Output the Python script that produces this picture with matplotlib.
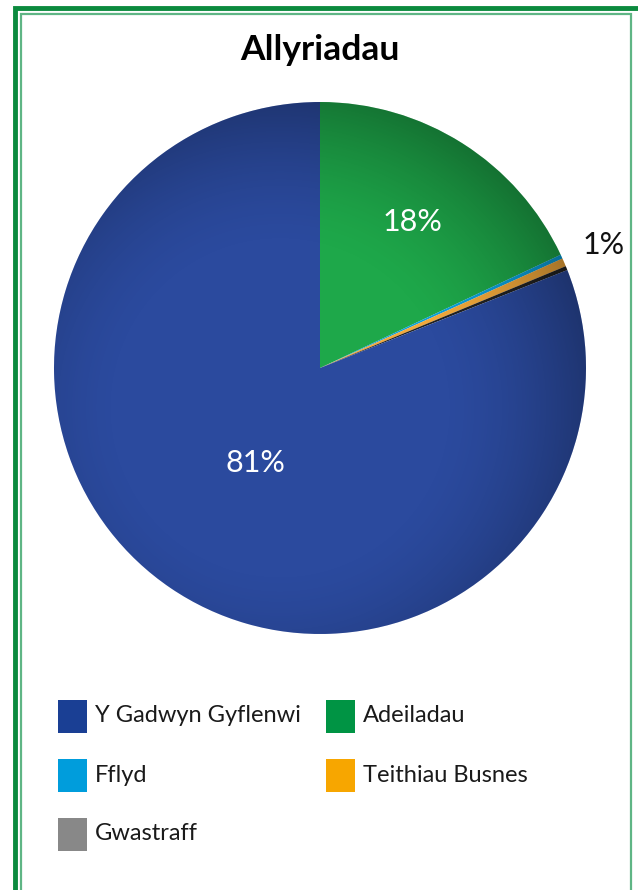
import numpy as np
import matplotlib
matplotlib.use("Agg")
import matplotlib.pyplot as plt
from matplotlib.patches import Rectangle, Circle

title = "Allyriadau"
categories = ["Adeiladau", "Fflyd", "Teithiau Busnes", "Gwastraff", "Y Gadwyn Gyflenwi"]
values = [18.0, 0.25, 0.5, 0.25, 81.0]
pie_colors = ["#1ea84a", "#0aa0dc", "#f2a93b", "#222222", "#2b4a9e"]
legend_labels = ["Y Gadwyn Gyflenwi", "Adeiladau", "Fflyd", "Teithiau Busnes", "Gwastraff"]
legend_colors = ["#1a3f94", "#009444", "#009ddc", "#f7a600", "#888888"]
pct_labels = ["18%", "1%", "81%"]

W, H = 638, 890
fig = plt.figure(figsize=(W / 100, H / 100), dpi=100)
ax = fig.add_axes([0, 0, 1, 1])
ax.set_xlim(0, W)
ax.set_ylim(0, H)
ax.axis("off")

def Y(y):
    return H - y

# double green frame
ax.add_patch(Rectangle((15, Y(950)), 640, 950 - 8, fill=False, ec="#0b8a3e", lw=3.5))
ax.add_patch(Rectangle((20.5, Y(950)), 610.5, 950 - 13.5, fill=False, ec="#5fb585", lw=1.6))

# title
ax.text(320, Y(50), title, ha="center", va="center", fontsize=25.5, fontweight="bold",
        family=["Lato", "DejaVu Sans"], color="#000000")

cx, cy, R = 320, Y(368), 266
wedges, _ = ax.pie(values, colors=pie_colors, startangle=90, counterclock=False,
                   center=(cx, cy), radius=R, frame=True,
                   wedgeprops=dict(linewidth=0))
ax.set_xlim(0, W)
ax.set_ylim(0, H)
ax.set_aspect("equal")
ax.axis("off")

# shading overlay clipped to circle (darker towards rim)
yy, xx = np.mgrid[-1:1:400j, -1:1:400j]
rr = np.sqrt((xx + 0.15) ** 2 + (yy - 0.15) ** 2)
alpha = np.clip((rr - 0.6) / 0.7, 0, 1) ** 1.6 * 0.4
img = np.zeros((400, 400, 4))
img[..., 3] = alpha
im = ax.imshow(img, extent=(cx - R, cx + R, cy - R, cy + R), origin="upper", zorder=3,
               interpolation="bilinear")
clip = Circle((cx, cy), R, transform=ax.transData)
im.set_clip_path(clip)

def mid_angle(w):
    return np.deg2rad((w.theta1 + w.theta2) / 2)

lab_font = ["Lato", "DejaVu Sans"]
a = mid_angle(wedges[0])
ax.text(cx + 0.65 * R * np.cos(a), cy + 0.65 * R * np.sin(a), pct_labels[0], ha="center",
        va="center", fontsize=22, color="white", family=lab_font, zorder=5)
small = np.deg2rad((wedges[1].theta2 + wedges[3].theta1) / 2)
ax.text(cx + 1.16 * R * np.cos(small), cy + 1.16 * R * np.sin(small), pct_labels[1],
        ha="center", va="center", fontsize=22, color="#111111", family=lab_font, zorder=5)
a = mid_angle(wedges[4])
ax.text(cx + 0.43 * R * np.cos(a), cy + 0.43 * R * np.sin(a), pct_labels[2], ha="center",
        va="center", fontsize=22, color="white", family=lab_font, zorder=5)

# legend
cols_x = [58, 326]
rows_y = [716, 775, 834]
for i, (lab, col) in enumerate(zip(legend_labels, legend_colors)):
    r, c = divmod(i, 2)
    x0 = cols_x[c]
    yc = rows_y[r]
    ax.add_patch(Rectangle((x0, Y(yc + 16.5)), 29, 33, fc=col, ec="none"))
    ax.text(x0 + 37, Y(yc), lab, ha="left", va="center", fontsize=17, color="#1a1a1a",
            family=lab_font)

fig.savefig("out.png", dpi=100, facecolor="white")
